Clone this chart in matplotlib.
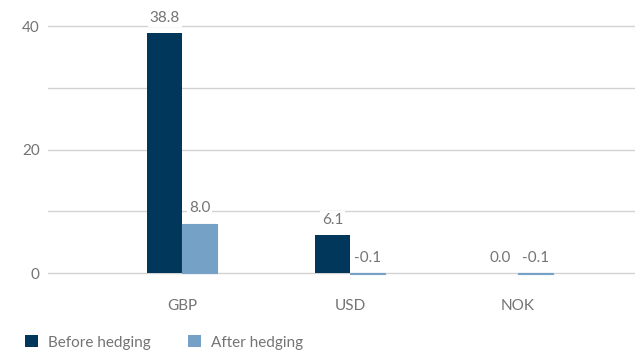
"""Currency exposure before and after hedging."""

import matplotlib

matplotlib.use("Agg")

import matplotlib.pyplot as plt
from matplotlib.patches import Patch
import numpy as np

CATEGORIES = ["GBP", "USD", "NOK"]
BEFORE = [38.8, 6.1, 0.0]
AFTER = [8.0, -0.1, -0.1]
SERIES = ["Before hedging", "After hedging"]

DARK = "#00375a"
LIGHT = "#76a1c6"
TEXT = "#747474"
GRID = "#d2d2d2"

plt.rcParams["font.family"] = ["Lato", "DejaVu Sans"]

fig = plt.figure(figsize=(6.35, 3.51), dpi=100, facecolor="white")
ax = fig.add_axes([48 / 635, 0.187, 587 / 635, 0.774])

x = np.arange(len(CATEGORIES))
width = 0.209
bars_before = ax.bar(x - width / 2, BEFORE, width, color=DARK, zorder=3)
# thin edge so the tiny negative bars still show as a blue line on the zero line
bars_after = ax.bar(x + width / 2, AFTER, width, color=LIGHT,
                    edgecolor=LIGHT, linewidth=0.8, zorder=3)

for bars, values in ((bars_before, BEFORE), (bars_after, AFTER)):
    for bar, val in zip(bars, values):
        top = max(val, 0)
        ax.annotate(
            f"{val:.1f}", (bar.get_x() + bar.get_width() / 2, top),
            xytext=(0, 6), textcoords="offset points",
            ha="center", va="bottom", fontsize=11, color=TEXT,
            bbox=dict(boxstyle="square,pad=0.12", facecolor="white", edgecolor="none"),
            zorder=4,
        )

ax.set_xlim(-0.8, 2.7)
ax.set_ylim(-2, 42)
ax.set_yticks([0, 10, 20, 30, 40])
ax.set_yticklabels(["0", "", "20", "", "40"])
ax.set_xticks(x)
ax.set_xticklabels(CATEGORIES)
ax.yaxis.grid(True, color=GRID, linewidth=1.0, zorder=0)
ax.set_axisbelow(True)
ax.tick_params(axis="both", length=0, labelsize=11, labelcolor=TEXT)
ax.tick_params(axis="y", pad=6)
ax.tick_params(axis="x", pad=10)
for spine in ax.spines.values():
    spine.set_visible(False)

handles = [Patch(facecolor=DARK), Patch(facecolor=LIGHT)]
fig.legend(
    handles, SERIES, loc="lower left", bbox_to_anchor=(0.017, -0.035),
    ncol=2, frameon=False, fontsize=11, labelcolor=TEXT,
    handlelength=0.85, handleheight=0.85, handletextpad=0.7, columnspacing=2.4,
)

fig.savefig("out.png", dpi=100, facecolor="white")
